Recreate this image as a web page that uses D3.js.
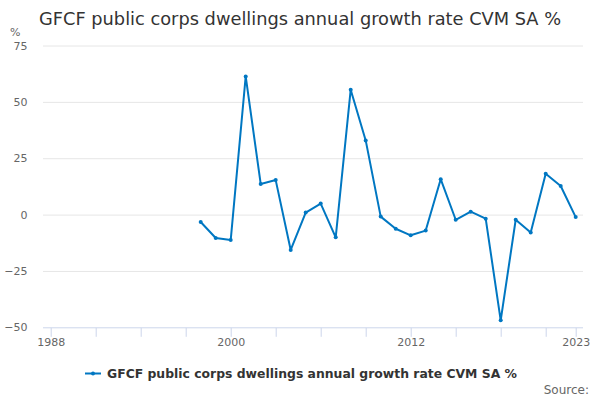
<!DOCTYPE html>
<html>
<head>
<meta charset="utf-8">
<script src="https://cdn.jsdelivr.net/npm/d3@7"></script>
<style>
  body { margin: 0; background: #fff; }
  text { font-family: "DejaVu Sans", sans-serif; }
</style>
</head>
<body>
<div id="chart"></div>
<script>
// values
var years = [1998, 1999, 2000, 2001, 2002, 2003, 2004, 2005, 2006, 2007, 2008, 2009, 2010,
             2011, 2012, 2013, 2014, 2015, 2016, 2017, 2018, 2019, 2020, 2021, 2022, 2023];
var growth = [-3.3, -10.4, -11.3, 61.3, 13.6, 15.3, -15.7, 0.9, 4.9, -10.1, 55.4, 32.9, -0.9,
              -6.3, -9.2, -7.1, 15.7, -2.3, 1.3, -1.8, -46.9, -2.3, -8.0, 18.1, 12.7, -1.1];
var yTicks = [-50, -25, 0, 25, 50, 75];
var xMinorTicks = [1988, 1991, 1994, 1997, 2000, 2003, 2006, 2009, 2012, 2015, 2018, 2021, 2023];
var xLabels = [1988, 2000, 2012, 2023];

var seriesName = "GFCF public corps dwellings annual growth rate CVM SA %";
var lineColor = "#0077c2";

var W = 600, H = 400;
var plotLeft = 43, plotRight = 583;

var svg = d3.select("#chart")
    .append("svg")
    .attr("width", W)
    .attr("height", H);

var xscale = d3.scaleLinear()
    .domain([1988, 2023])
    .range([50.7, 575.7]);

var yscale = d3.scaleLinear()
    .domain([-50, 75])
    .range([327.3, 45.5]);

// title
svg.append("text")
    .attr("x", 39)
    .attr("y", 25)
    .attr("fill", "#333333")
    .attr("font-size", 17.8)
    .text(seriesName);

// unit label
svg.append("text")
    .attr("x", 10)
    .attr("y", 36)
    .attr("fill", "#666666")
    .attr("font-size", 11)
    .text("%");

// gridlines
svg.append("g")
    .selectAll("line")
    .data(yTicks.filter(function (d) { return d !== -50; }))
    .enter()
    .append("line")
    .attr("x1", plotLeft)
    .attr("x2", plotRight)
    .attr("y1", function (d) { return yscale(d) + 0.5; })
    .attr("y2", function (d) { return yscale(d) + 0.5; })
    .attr("stroke", "#e6e6e6")
    .attr("stroke-width", 1);

// y axis labels
var yaxis = d3.axisLeft(yscale)
    .tickValues(yTicks)
    .tickSize(0)
    .tickPadding(0);
var yg = svg.append("g")
    .attr("transform", "translate(27.5,0)")
    .call(yaxis);
yg.select(".domain").remove();
yg.selectAll("text")
    .attr("fill", "#666666")
    .attr("font-size", 11)
    .style("font-family", "DejaVu Sans, sans-serif");

// x axis line and ticks
svg.append("line")
    .attr("x1", plotLeft)
    .attr("x2", plotRight)
    .attr("y1", yscale(-50) + 0.5)
    .attr("y2", yscale(-50) + 0.5)
    .attr("stroke", "#ccd6eb")
    .attr("stroke-width", 1);

var xaxis = d3.axisBottom(xscale)
    .tickValues(xMinorTicks)
    .tickSize(9)
    .tickFormat(function (d) { return xLabels.indexOf(d) >= 0 ? String(d) : ""; });
var xg = svg.append("g")
    .attr("transform", "translate(0," + (yscale(-50) + 0.5) + ")")
    .call(xaxis);
xg.select(".domain").remove();
xg.selectAll(".tick line").attr("stroke", "#ccd6eb");
xg.selectAll("text")
    .attr("fill", "#666666")
    .attr("font-size", 11)
    .attr("y", 10)
    .style("font-family", "DejaVu Sans, sans-serif");

// series line
var line = d3.line()
    .x(function (d, i) { return xscale(years[i]); })
    .y(function (d) { return yscale(d); });

svg.append("path")
    .datum(growth)
    .attr("d", line)
    .attr("fill", "none")
    .attr("stroke", lineColor)
    .attr("stroke-width", 2)
    .attr("stroke-linejoin", "round");

svg.selectAll(".pt")
    .data(growth)
    .enter()
    .append("circle")
    .attr("class", "pt")
    .attr("cx", function (d, i) { return xscale(years[i]); })
    .attr("cy", function (d) { return yscale(d); })
    .attr("r", 2)
    .attr("fill", lineColor);

// legend
var lg = svg.append("g").attr("transform", "translate(85,373.5)");
lg.append("line")
    .attr("x1", 0).attr("x2", 16)
    .attr("y1", 0).attr("y2", 0)
    .attr("stroke", lineColor)
    .attr("stroke-width", 2);
lg.append("circle")
    .attr("cx", 8).attr("cy", 0).attr("r", 2)
    .attr("fill", lineColor);
lg.append("text")
    .attr("x", 22)
    .attr("y", 4.5)
    .attr("fill", "#333333")
    .attr("font-size", 12.4)
    .attr("font-weight", "bold")
    .text(seriesName);

// source
svg.append("text")
    .attr("x", 589)
    .attr("y", 394)
    .attr("text-anchor", "end")
    .attr("fill", "#666666")
    .attr("font-size", 12)
    .text("Source:");
</script>
</body>
</html>
